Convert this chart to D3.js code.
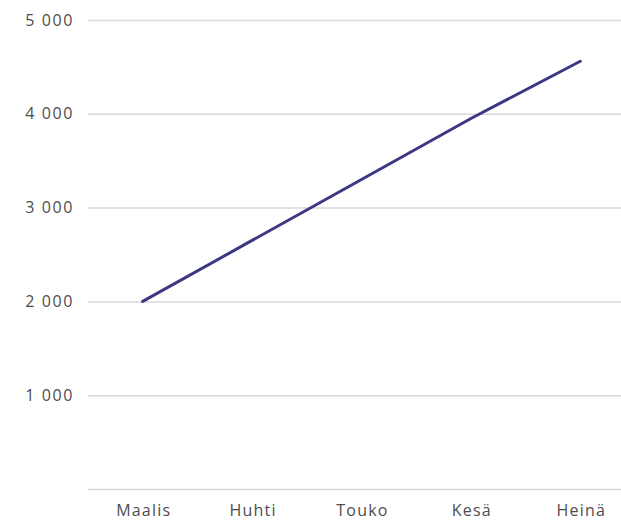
<!DOCTYPE html>
<html>
<head>
<meta charset="utf-8">
<script src="https://cdn.jsdelivr.net/npm/d3@7"></script>
<style>
  body { margin: 0; background: #fff; }
  svg { display: block; font-family: "Open Sans", "DejaVu Sans", sans-serif; }
</style>
</head>
<body>
<svg id="chart"></svg>
<script>
const months = ["Maalis", "Huhti", "Touko", "Kesä", "Heinä"];
const values = [2000, 2650, 3300, 3950, 4560];
const yTicks = [0, 1000, 2000, 3000, 4000, 5000];

const width = 621, height = 522;
const margin = { top: 20, right: -14, bottom: 33, left: 88 };

const svg = d3.select("#chart").attr("width", width).attr("height", height);

const x = d3.scalePoint()
    .domain(months)
    .range([margin.left, width - margin.right])
    .padding(0.5);
const y = d3.scaleLinear()
    .domain([0, 5000])
    .range([height - margin.bottom, margin.top]);

const fmt = v => d3.format(",")(v).replace(/,/g, " ");

// gridlines
svg.append("g")
    .attr("transform", `translate(${margin.left},0)`)
    .call(d3.axisLeft(y).tickValues(yTicks).tickSize(-(width - margin.left)).tickFormat(""))
    .call(g => g.select(".domain").remove())
    .call(g => g.selectAll("line").attr("stroke", "#d9d9d9").attr("stroke-width", 1.5));

// y labels
svg.append("g")
    .selectAll("text")
    .data(yTicks.filter(d => d > 0))
    .join("text")
    .attr("x", 74)
    .attr("y", d => y(d))
    .attr("dy", "0.35em")
    .attr("text-anchor", "end")
    .attr("fill", "#4d4d4d")
    .attr("font-size", 16)
    .attr("letter-spacing", 1.6)
    .text(fmt);

// x labels
svg.append("g")
    .selectAll("text")
    .data(months)
    .join("text")
    .attr("x", d => x(d) + 1)
    .attr("y", 516)
    .attr("text-anchor", "middle")
    .attr("fill", "#4d4d4d")
    .attr("font-size", 16)
    .attr("letter-spacing", 1.2)
    .text(d => d);

// line
const line = d3.line()
    .x((d, i) => x(months[i]))
    .y(d => y(d));

svg.append("path")
    .datum(values)
    .attr("fill", "none")
    .attr("stroke", "#3d3882")
    .attr("stroke-width", 3)
    .attr("stroke-linecap", "round")
    .attr("d", line);
</script>
</body>
</html>
